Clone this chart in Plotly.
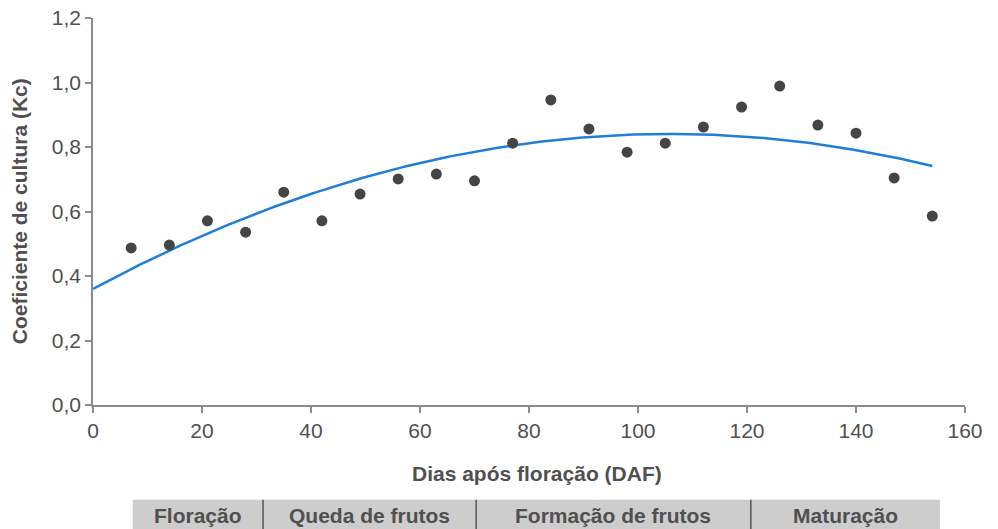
import numpy as np
import plotly.graph_objects as go

# Observed data (days after flowering, crop coefficient)
days = [7, 14, 21, 28, 35, 42, 49, 56, 63, 70, 77, 84, 91, 98, 105, 112, 119, 126, 133, 140, 147, 154]
kc = [0.487, 0.496, 0.571, 0.536, 0.660, 0.571, 0.654, 0.701, 0.716, 0.695, 0.812, 0.946,
      0.856, 0.784, 0.812, 0.862, 0.924, 0.989, 0.868, 0.843, 0.704, 0.586]

# Quadratic trend-line coefficients: c2*x^2 + c1*x + c0
fit_coeffs = [-4.29e-5, 0.00908, 0.36]
fit_start, fit_end = 0, 154

# Phenological phases along the bottom bar
phase_names = ["Floração", "Queda de frutos", "Formação de frutos", "Maturação"]
phase_bounds = [7.3, 31.2, 70.3, 120.7, 155.4]

x_fit = np.linspace(fit_start, fit_end, 200)
y_fit = np.polyval(fit_coeffs, x_fit)

FONT = "Liberation Sans, Arial, sans-serif"
GREY_TXT = "#505050"
AXIS_COL = "#8c8c8c"
FS = 21

fig = go.Figure()
fig.add_trace(go.Scatter(x=x_fit, y=y_fit, mode="lines",
                         line=dict(color="#1f7fd6", width=2.5), showlegend=False,
                         hoverinfo="skip"))
fig.add_trace(go.Scatter(x=days, y=kc, mode="markers",
                         marker=dict(color="#454545", size=11), showlegend=False))

# phase bar
bar_y0, bar_y1 = -0.245, -0.34
shapes = [dict(type="rect", xref="x", yref="paper", x0=phase_bounds[0], x1=phase_bounds[-1],
               y0=bar_y0, y1=bar_y1, fillcolor="#cdcdcd", line=dict(width=0), layer="below")]
for b in phase_bounds[1:-1]:
    shapes.append(dict(type="line", xref="x", yref="paper", x0=b, x1=b, y0=bar_y0, y1=bar_y1,
                       line=dict(color="#555555", width=1.5)))

annotations = []
for i, name in enumerate(phase_names):
    annotations.append(dict(x=(phase_bounds[i] + phase_bounds[i + 1]) / 2, xref="x",
                            y=-0.285, yref="paper", text="<b>" + name + "</b>", showarrow=False,
                            xanchor="center", yanchor="middle",
                            font=dict(family=FONT, size=FS, color=GREY_TXT)))
annotations.append(dict(x=0.509, xref="paper", y=-0.178, yref="paper",
                        text="<b>Dias após floração (DAF)</b>", showarrow=False,
                        xanchor="center", yanchor="middle",
                        font=dict(family=FONT, size=FS, color=GREY_TXT)))
annotations.append(dict(x=-0.084, xref="paper", y=0.5, yref="paper", textangle=-90,
                        text="<b>Coeficiente de cultura (Kc)</b>", showarrow=False,
                        xanchor="center", yanchor="middle",
                        font=dict(family=FONT, size=FS, color=GREY_TXT)))

# the page body adds an 8px margin, so the figure is sized/offset to compensate
fig.update_layout(
    width=990, height=521,
    margin=dict(l=85, r=33, t=10, b=124, autoexpand=False),
    plot_bgcolor="white", paper_bgcolor="white",
    separators=",.",
    shapes=shapes, annotations=annotations,
    xaxis=dict(range=[0, 160], dtick=20, tick0=0, showgrid=False, zeroline=False,
               showline=True, linecolor=AXIS_COL, linewidth=1.5,
               ticks="outside", ticklen=6, tickcolor=AXIS_COL, tickwidth=1.5,
               ticklabeloverflow="allow",
               tickfont=dict(family=FONT, size=FS, color=GREY_TXT)),
    yaxis=dict(range=[0, 1.2], dtick=0.2, tick0=0, tickformat=".1f", showgrid=False,
               zeroline=False, showline=True, linecolor=AXIS_COL, linewidth=1.5,
               ticks="outside", ticklen=6, tickcolor=AXIS_COL, tickwidth=1.5,
               ticklabeloverflow="allow",
               tickfont=dict(family=FONT, size=FS, color=GREY_TXT)),
)

fig.write_html("out.html")
